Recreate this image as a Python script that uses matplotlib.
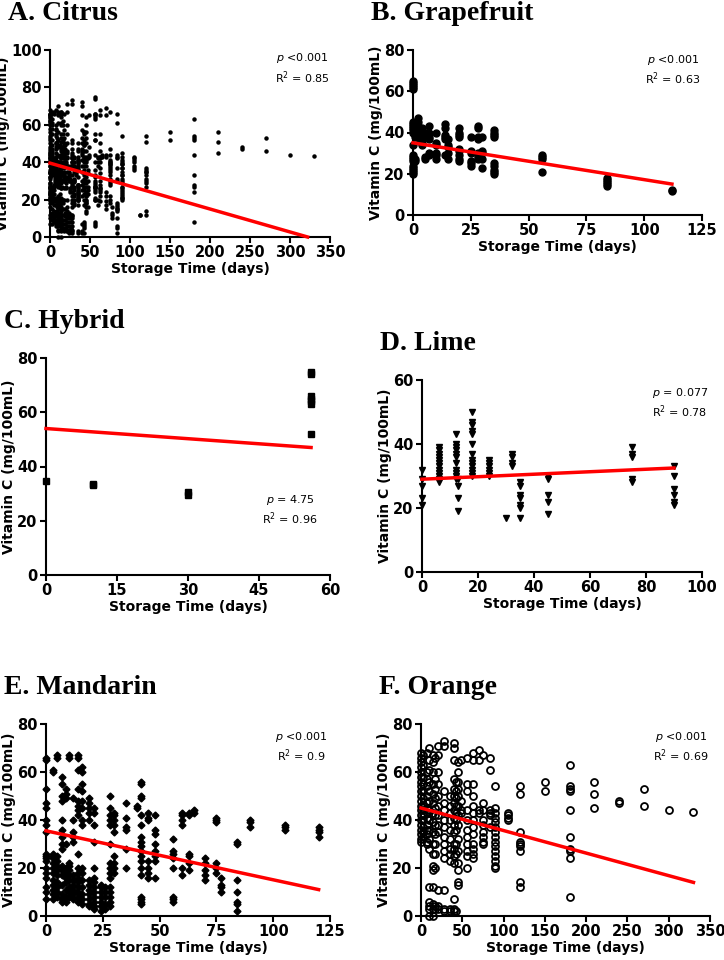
import matplotlib
matplotlib.use('Agg')
import matplotlib.pyplot as plt

# Data: storage day -> vitamin C values (mg/100mL)
grapefruit = {
    0: [65, 64, 63, 62, 61, 45, 44, 43, 42, 41, 40, 34, 29, 28, 27, 26, 24, 23, 22, 21, 20],
    1: [44, 42, 40, 38, 27, 26], 2: [47, 45, 43, 41, 39], 3: [41, 40, 38, 37, 36],
    4: [42, 41, 39, 37, 35, 34], 5: [40, 39, 28, 27], 7: [43, 40, 38, 37, 30, 29],
    10: [40, 35, 34, 30, 29, 27], 14: [44, 42, 39, 38, 37, 29], 15: [37, 34, 33, 30, 27],
    20: [42, 40, 39, 38, 32, 31, 29, 27, 26], 25: [38, 31, 30, 26, 25, 24],
    28: [43, 42, 38, 37, 30, 29, 28, 27], 30: [38, 31, 30, 27, 23],
    35: [41, 40, 39, 38, 25, 24, 22, 21, 20], 56: [29, 28, 27, 21],
    84: [18, 17, 16, 15, 14], 112: [12, 11.5],
}
hybrid = {0: [34.5], 10: [33.5, 33], 30: [30.5, 29.5], 56: [75, 74, 66, 65, 64, 63, 52]}
lime = {
    0: [32, 29, 27, 23, 21], 6: [39, 38, 37, 36, 35, 34, 33, 32, 31, 30, 29, 28],
    12: [43, 40, 39, 38, 37, 36, 34, 32, 31, 30, 29], 13: [29, 27, 23, 19],
    18: [50, 47, 46, 44, 43, 40, 37, 35, 34, 33, 32, 31, 30], 24: [35, 34, 33, 32, 31, 30],
    30: [17], 32: [37, 36, 34, 33], 35: [28, 27, 24, 23, 21, 20, 17],
    45: [30, 29, 24, 22, 18], 75: [39, 37, 36, 29, 28], 90: [33, 30, 26, 24, 22, 21],
}
mandarin = {
    0: [66, 65, 53, 47, 45, 40, 38, 35, 26, 25, 24, 23, 20, 18, 16, 12, 10, 7],
    3: [61, 60, 26, 25, 24, 22, 20, 18, 15, 13, 11, 9, 7],
    5: [67, 66, 25, 23, 21, 19, 17, 14, 12, 10, 8],
    7: [58, 55, 50, 48, 40, 36, 33, 30, 28, 21, 19, 17, 13, 9, 7, 6],
    9: [53, 51, 49, 30, 20, 18, 16, 14, 11, 8, 6],
    10: [67, 66, 22, 21, 19, 17, 15, 12, 10, 8],
    12: [49, 40, 35, 33, 31, 17, 15, 13, 11, 9, 7],
    14: [67, 66, 61, 53, 48, 46, 44, 42, 26, 20, 18, 16, 14, 12, 10, 8, 6],
    16: [62, 60, 55, 52, 48, 45, 40, 38, 20, 18, 15, 12, 9, 7, 5],
    19: [49, 47, 45, 43, 40, 15, 13, 11, 9, 7, 5, 4],
    21: [45, 43, 38, 31, 20, 16, 14, 12, 10, 8, 6, 4, 3],
    24: [13, 12, 10, 8, 6, 4, 2], 26: [12, 10, 8, 5, 3],
    28: [50, 45, 42, 40, 38, 30, 22, 20, 18, 16, 12, 10, 8, 6, 4],
    30: [43, 42, 40, 38, 35, 25, 22, 20, 18], 35: [47, 41, 37, 36, 28, 20], 40: [46, 45],
    42: [56, 55, 50, 49, 42, 38, 33, 31, 29, 27, 25, 23, 20, 17, 8, 7, 6, 5],
    45: [43, 41, 40, 23, 20, 18, 16], 48: [42, 36, 34, 30, 27, 25, 23, 16],
    56: [32, 27, 26, 24, 20, 8, 7, 6], 60: [43, 42, 40, 38, 20, 17],
    63: [43, 42, 26, 25, 22, 19], 65: [44, 43], 70: [24, 22, 19, 17, 15],
    75: [41, 40, 39, 22, 20, 18], 77: [16, 13, 12, 10], 84: [31, 30, 15, 10, 6, 5, 2],
    90: [40, 39, 37], 105: [38, 37, 36], 120: [37, 36, 35, 33],
}
orange = {
    0: [68, 66, 64, 62, 60, 58, 56, 54, 52, 50, 48, 46, 44, 42, 40, 38, 36, 34, 32, 31],
    3: [67, 63, 58, 55, 52, 49, 46, 44, 42, 40, 37, 35, 33],
    7: [68, 60, 57, 54, 50, 47, 45, 43, 41, 38, 36, 34, 31, 30],
    10: [70, 65, 61, 56, 52, 48, 44, 40, 36, 32, 28, 12, 6, 4, 3, 0],
    14: [67, 64, 60, 55, 51, 47, 43, 39, 35, 30, 26, 21, 19, 12, 5, 3, 0],
    17: [66, 57, 53, 49, 45, 42, 38, 34, 30, 26, 20, 4, 3],
    21: [71, 67, 60, 55, 50, 46, 42, 38, 35, 11, 4, 3],
    28: [73, 71, 52, 47, 44, 40, 37, 33, 30, 27, 24, 11, 3, 2],
    35: [50, 46, 43, 40, 36, 32, 28, 26, 23, 3, 2],
    40: [72, 70, 65, 57, 53, 50, 47, 44, 41, 38, 35, 30, 28, 25, 22, 7, 3, 2],
    42: [56, 52, 49, 46, 43, 40, 36, 30, 26, 2],
    45: [64, 60, 56, 53, 50, 46, 42, 38, 32, 27, 22, 19, 14, 13],
    49: [65, 48, 44, 43], 56: [66, 55, 52, 44, 40, 36, 33, 30, 27, 25, 20],
    63: [68, 65, 55, 50, 46, 43, 40, 37, 34, 30, 28, 26, 24], 70: [69, 65, 44, 43],
    75: [67, 47, 44, 40, 38, 35, 33, 31, 30], 84: [66, 61, 44, 43, 42, 37],
    90: [54, 45, 43, 41, 39, 37, 35, 33, 31, 29, 27, 25, 23, 21, 20],
    105: [43, 42, 41, 40], 120: [54, 51, 35, 31, 30, 29, 27, 14, 12], 150: [56, 52],
    180: [63, 54, 53, 52, 44, 33, 28, 27, 24, 8], 210: [56, 51, 45], 240: [48, 47],
    270: [53, 46], 300: [44], 330: [43.5],
}

# Regression lines: (intercept, slope, x end)
fits = {
    'citrus': (39.5, -39.5 / 322, 322), 'grapefruit': (35, -20 / 112, 112),
    'hybrid': (54, -7 / 56, 56), 'lime': (29, 3.5 / 90, 90),
    'mandarin': (35.5, -24.5 / 120, 120), 'orange': (45, -31 / 330, 330),
}
stats = {
    'citrus': ('<0.001', '0.85'), 'grapefruit': ('<0.001', '0.63'), 'hybrid': ('= 4.75', '0.96'),
    'lime': ('= 0.077', '0.78'), 'mandarin': ('<0.001', '0.9'), 'orange': ('<0.001', '0.69'),
}


def flatten(d):
    xs, ys = [], []
    for k, v in d.items():
        xs += [k] * len(v)
        ys += v
    return xs, ys


citrus_x, citrus_y = [], []
for d in (grapefruit, hybrid, lime, mandarin, orange):
    xx, yy = flatten(d)
    citrus_x += xx
    citrus_y += yy

W, H = 724, 960
fig = plt.figure(figsize=(W / 100, H / 100), dpi=100)

panels = [
    # name, title, x, y, marker kw, rect px (left, top, right, bottom), xlim, xticks, ylim, yticks, stat pos
    ('citrus', 'A. Citrus', citrus_x, citrus_y, dict(marker='o', ms=2.2, color='black', ls='none'),
     (50, 50, 330, 237), 350, range(0, 351, 50), 100, range(0, 101, 20), (0.9, 0.9)),
    ('grapefruit', 'B. Grapefruit', *flatten(grapefruit), dict(marker='o', ms=5, color='black', ls='none'),
     (413, 50, 702, 215), 125, range(0, 126, 25), 80, range(0, 81, 20), (0.9, 0.88)),
    ('hybrid', 'C. Hybrid', *flatten(hybrid), dict(marker='s', ms=5, color='black', ls='none'),
     (46, 358, 330, 575), 60, range(0, 61, 15), 80, range(0, 81, 20), (0.86, 0.3)),
    ('lime', 'D. Lime', *flatten(lime), dict(marker='v', ms=5, color='black', ls='none'),
     (422, 380, 702, 572), 100, range(0, 101, 20), 60, range(0, 61, 20), (0.92, 0.88)),
    ('mandarin', 'E. Mandarin', *flatten(mandarin), dict(marker='D', ms=3.5, color='black', ls='none'),
     (46, 724, 330, 916), 125, range(0, 126, 25), 80, range(0, 81, 20), (0.9, 0.88)),
    ('orange', 'F. Orange', *flatten(orange), dict(marker='o', ms=5, mfc='none', mec='black', mew=1.3, ls='none'),
     (421, 724, 710, 916), 350, range(0, 351, 50), 80, range(0, 81, 20), (0.9, 0.88)),
]

for name, title, xs, ys, mk, rect, xmax, xt, ymax, yt, spos in panels:
    l, t, r, b = rect
    ax = fig.add_axes([l / W, 1 - b / H, (r - l) / W, (b - t) / H])
    ax.plot(xs, ys, clip_on=False, zorder=3, **mk)
    a, s, xe = fits[name]
    ax.plot([0, xe], [a, a + s * xe], color='red', lw=2.5, zorder=4, clip_on=False)
    ax.set_xlim(0, xmax)
    ax.set_ylim(0, ymax)
    ax.set_xticks(list(xt))
    ax.set_yticks(list(yt))
    for sp in ('top', 'right'):
        ax.spines[sp].set_visible(False)
    for sp in ('left', 'bottom'):
        ax.spines[sp].set_linewidth(1.5)
    ax.tick_params(width=1.5, length=4, labelsize=10.5, pad=2)
    for lab in ax.get_xticklabels() + ax.get_yticklabels():
        lab.set_fontweight('bold')
    ax.set_xlabel('Storage Time (days)', fontsize=10, fontweight='bold', labelpad=1)
    ax.set_ylabel('Vitamin C (mg/100mL)', fontsize=10, fontweight='bold', labelpad=1)
    p, r2 = stats[name]
    ax.text(spos[0], spos[1], '$\\it{p}$ ' + p + '\nR$^2$ = ' + r2, transform=ax.transAxes,
            ha='center', va='center', fontsize=8, linespacing=1.3)
    fig.text((l - 42) / W, 1 - (t - 36) / H, title, fontsize=20, fontweight='bold',
             family='Liberation Serif', va='center', ha='left')

fig.savefig('out.png', dpi=100)
